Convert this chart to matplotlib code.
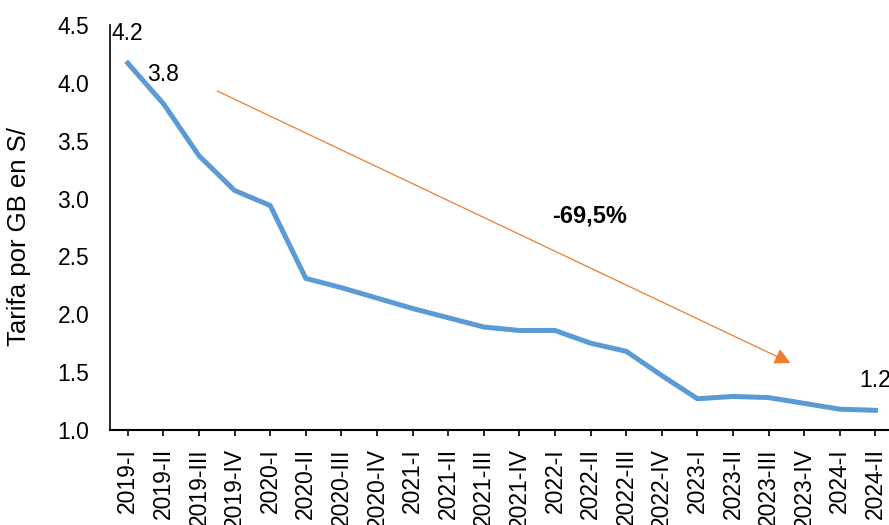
import numpy as np
import matplotlib.pyplot as plt

plt.rcParams['font.family'] = ['Liberation Sans', 'DejaVu Sans']

# Datos: tarifa por GB (S/) por trimestre
trimestres = ['2019-I', '2019-II', '2019-III', '2019-IV',
              '2020-I', '2020-II', '2020-III', '2020-IV',
              '2021-I', '2021-II', '2021-III', '2021-IV',
              '2022-I', '2022-II', '2022-III', '2022-IV',
              '2023-I', '2023-II', '2023-III', '2023-IV',
              '2024-I', '2024-II']
tarifa = [4.17, 3.82, 3.37, 3.07, 2.94, 2.31, 2.23, 2.14, 2.05, 1.97, 1.89,
          1.86, 1.86, 1.75, 1.68, 1.47, 1.27, 1.29, 1.28, 1.23, 1.18, 1.17]
etiquetas = {0: '4.2', 1: '3.8', 21: '1.2'}
variacion = '-69,5%'

fig = plt.figure(figsize=(8.89, 5.25), dpi=100)
ax = fig.add_axes([110/889, 95/525, 779/889, 405/525])

x = np.arange(len(trimestres))
ax.plot(x, tarifa, color='#5B9BD5', linewidth=3.6, solid_joinstyle='round')

# etiquetas de datos
for i, txt in etiquetas.items():
    ax.annotate(txt, (i, tarifa[i]), xytext=(0, 16.5), textcoords='offset points',
                ha='center', va='baseline', fontsize=16.5)

# flecha de tendencia
ax.annotate('', xy=(18.68, 1.57), xytext=(2.44, 3.94),
            arrowprops=dict(arrowstyle='-|>,head_length=0.95,head_width=0.5',
                            color='#ED7D31', lw=0.9))
ax.text(12.98, 2.85, variacion, ha='center', va='center', fontsize=17,
        fontweight='bold')

ax.set_xlim(-0.5, 21.38)
ax.set_ylim(1.0, 4.5)
ax.set_yticks(np.arange(1.0, 4.51, 0.5))
ax.set_yticklabels(['%.1f' % v for v in np.arange(1.0, 4.51, 0.5)], fontsize=16.5)
ax.set_xticks(x)
ax.set_xticklabels(trimestres, rotation=90, fontsize=16.5)
ax.tick_params(axis='y', length=0, pad=15)
ax.tick_params(axis='x', length=4, width=1.2, direction='out', pad=9)
ax.set_ylabel('Tarifa por GB en S/', fontsize=18.5)
ax.yaxis.set_label_coords(-0.101, 0.478)

for s in ['top', 'right']:
    ax.spines[s].set_visible(False)
ax.spines['left'].set_linewidth(1.2)
ax.spines['bottom'].set_linewidth(1.5)

fig.savefig('out.png', dpi=100)
